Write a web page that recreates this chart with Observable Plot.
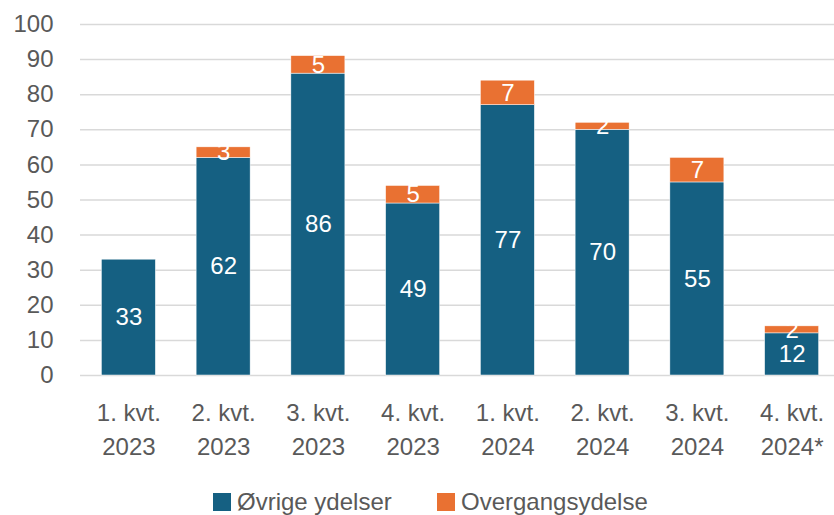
<!DOCTYPE html>
<html>
<head>
<meta charset="utf-8">
<script src="https://cdn.jsdelivr.net/npm/d3@7"></script>
<script src="https://cdn.jsdelivr.net/npm/@observablehq/plot@0.6"></script>
<style>
  html, body { margin: 0; padding: 0; background: #fff; overflow: hidden; }
  body { width: 834px; height: 515px; font-family: "Liberation Sans", Arial, sans-serif; }
  #legend { position: absolute; left: 0; top: 488px; width: 834px; height: 27px; font-size: 24px; line-height: 27px; color: #595959; }
  .item { position: absolute; top: 0; display: flex; align-items: center; height: 27px; white-space: nowrap; }
  .sw { width: 18px; height: 18px; margin-right: 6px; display: inline-block; }
</style>
</head>
<body>
<div id="chart"></div>
<div id="legend"></div>
<script>
const quarters = ["1. kvt.\n2023", "2. kvt.\n2023", "3. kvt.\n2023", "4. kvt.\n2023", "1. kvt.\n2024", "2. kvt.\n2024", "3. kvt.\n2024", "4. kvt.\n2024*"];
const ovrige = [33, 62, 86, 49, 77, 70, 55, 12];
const overgang = [0, 3, 5, 5, 7, 2, 7, 2];
const seriesNames = ["Øvrige ydelser", "Overgangsydelse"];
const colors = ["#156082", "#E97132"];
const yTicks = [0, 10, 20, 30, 40, 50, 60, 70, 80, 90, 100];

const data = [];
quarters.forEach((q, i) => {
  data.push({q, serie: seriesNames[0], value: ovrige[i]});
  data.push({q, serie: seriesNames[1], value: overgang[i]});
});

const chart = Plot.plot({
  width: 834,
  height: 475,
  marginTop: 24,
  marginBottom: 100,
  marginLeft: 80,
  marginRight: 0,
  style: {fontFamily: "'Liberation Sans', Arial, sans-serif", fontSize: "24px", color: "#595959", background: "#fff"},
  x: {domain: quarters, range: [81, 839], paddingInner: 0.43, paddingOuter: 0.215, round: false, label: null},
  y: {domain: [0, 100], label: null},
  color: {domain: seriesNames, range: colors},
  marks: [
    Plot.ruleY(yTicks, {stroke: "#d9d9d9", strokeWidth: 1.5}),
    Plot.barY(data, Plot.stackY({x: "q", y: "value", z: "serie", fill: "serie", order: seriesNames, stroke: "#fff", strokeWidth: 0.5})),
    Plot.text(data.filter(d => d.value > 0), Plot.stackY({x: "q", y: "value", z: "serie", order: seriesNames, text: d => String(d.value), fill: "#fff", fontSize: 24})),
    Plot.axisY({ticks: yTicks, tickSize: 0, tickPadding: 27, fontSize: 24, fill: "#595959", label: null}),
    Plot.axisX({tickSize: 0, tickPadding: 21, fontSize: 24, lineHeight: 1.42, fill: "#595959", label: null})
  ]
});
document.getElementById("chart").appendChild(chart);

const legend = document.getElementById("legend");
const lefts = [213, 437];
seriesNames.forEach((name, i) => {
  const item = document.createElement("div");
  item.className = "item";
  item.style.left = lefts[i] + "px";
  const sw = document.createElement("span");
  sw.className = "sw";
  sw.style.background = colors[i];
  item.appendChild(sw);
  item.appendChild(document.createTextNode(name));
  legend.appendChild(item);
});
</script>
</body>
</html>
